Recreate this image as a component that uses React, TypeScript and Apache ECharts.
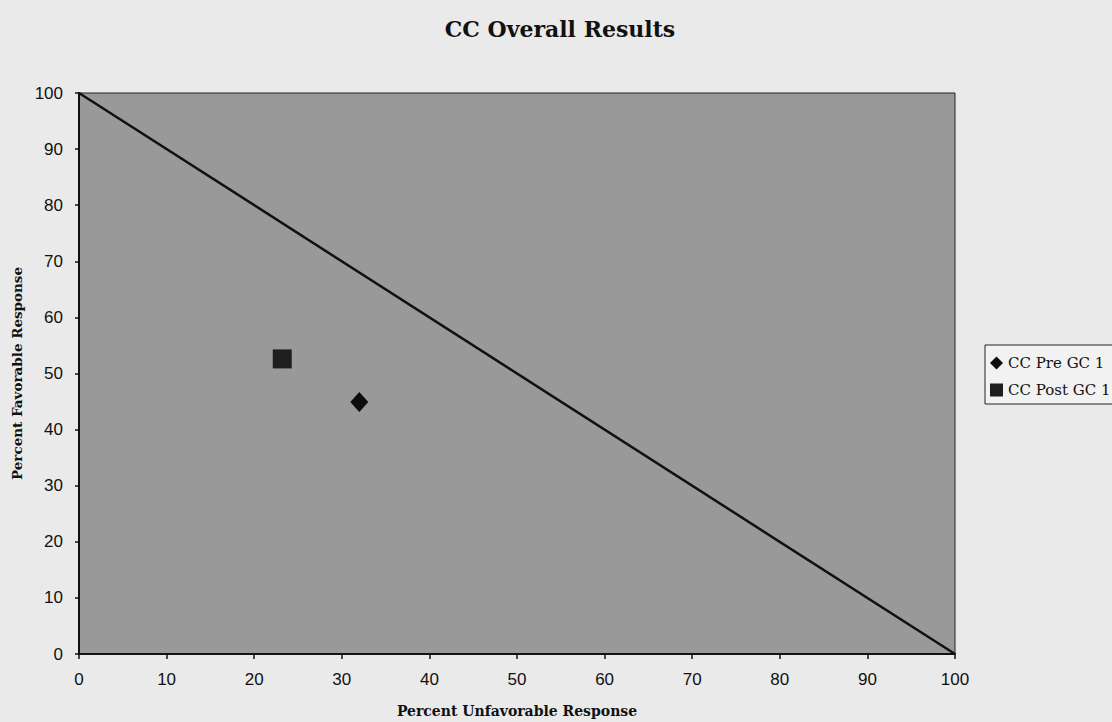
import React, { useEffect, useRef } from "react";
import * as echarts from "echarts";

const seriesNames = ["CC Pre GC 1", "CC Post GC 1"];
const preData: [number, number][] = [[32, 44.9]];
const postData: [number, number][] = [[23.2, 52.6]];
const diagonal: [number, number][] = [[0, 100], [100, 0]];

export default function App() {
  const ref = useRef<HTMLDivElement>(null);
  useEffect(() => {
    const chart = echarts.init(ref.current!, null, { renderer: "svg" });
    const serif = "'DejaVu Serif', 'Liberation Serif', serif";
    const sans = "'Liberation Sans', Arial, sans-serif";
    chart.setOption({
      animation: false,
      backgroundColor: "#eaeaea",
      title: {
        text: "CC Overall Results",
        left: 555,
        textAlign: "center",
        top: 13,
        textStyle: { fontFamily: serif, fontWeight: "bold", fontSize: 22, color: "#111" },
      },
      grid: {
        left: 79,
        right: 157,
        top: 93,
        bottom: 68,
        containLabel: false,
        outerBoundsMode: "none",
        show: true,
        backgroundColor: "#999999",
        borderColor: "#222",
        borderWidth: 1,
      },
      legend: {
        orient: "vertical",
        left: 985,
        top: 345,
        data: [
          { name: seriesNames[0], icon: "diamond", itemStyle: { opacity: 1, color: "#0d0d0d" } },
          { name: seriesNames[1], icon: "rect", itemStyle: { opacity: 1, color: "#1e1e1e" } },
        ],
        itemWidth: 13,
        itemHeight: 13,
        itemGap: 9,
        padding: [9, 10, 5, 5],
        backgroundColor: "#f2f2f2",
        borderColor: "#222",
        borderWidth: 1,
        borderRadius: 0,
        textStyle: { fontFamily: serif, fontSize: 15, color: "#111", padding: [0, 0, 0, 0], lineHeight: 18 },
      },
      xAxis: {
        type: "value",
        min: 0,
        max: 100,
        interval: 10,
        name: "Percent Unfavorable Response",
        nameLocation: "middle",
        nameGap: 50,
        nameTextStyle: { fontFamily: serif, fontWeight: "bold", fontSize: 14, color: "#111" },
        axisLine: { show: true, lineStyle: { color: "#111", width: 2 } },
        axisTick: { show: true, length: 5, lineStyle: { color: "#111", width: 1.5 } },
        axisLabel: { fontFamily: sans, fontSize: 17, color: "#111", margin: 17 },
        splitLine: { show: false },
      },
      yAxis: {
        type: "value",
        min: 0,
        max: 100,
        interval: 10,
        name: "Percent Favorable Response",
        nameLocation: "middle",
        nameGap: 55,
        nameTextStyle: { fontFamily: serif, fontWeight: "bold", fontSize: 13.5, color: "#111" },
        axisLine: { show: true, lineStyle: { color: "#111", width: 2 } },
        axisTick: { show: true, length: 4, lineStyle: { color: "#111", width: 1.5 } },
        axisLabel: { fontFamily: sans, fontSize: 17, color: "#111", margin: 16 },
        splitLine: { show: false },
      },
      series: [
        {
          name: "diagonal",
          type: "line",
          data: diagonal,
          symbol: "none",
          lineStyle: { color: "#111", width: 2.5 },
          silent: true,
          z: 1,
        },
        {
          name: seriesNames[0],
          type: "scatter",
          data: preData,
          symbol: "diamond",
          symbolSize: [18, 20],
          itemStyle: { color: "#0d0d0d", opacity: 1 },
          z: 3,
        },
        {
          name: seriesNames[1],
          type: "scatter",
          data: postData,
          symbol: "rect",
          symbolSize: 19,
          itemStyle: { color: "#1e1e1e", opacity: 1 },
          z: 3,
        },
      ],
    });
    return () => chart.dispose();
  }, []);
  return (
    <div
      ref={ref}
      style={{ position: "fixed", left: 0, top: 0, width: 1112, height: 722 }}
    />
  );
}
